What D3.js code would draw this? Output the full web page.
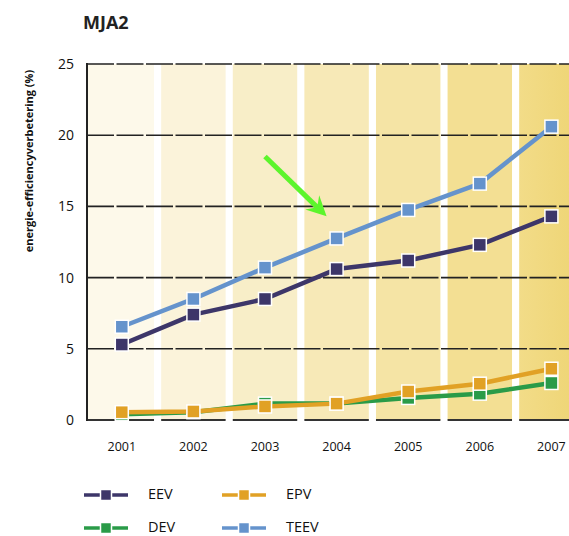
<!DOCTYPE html>
<html><head><meta charset="utf-8">
<script src="https://cdn.jsdelivr.net/npm/d3@7"></script>
<style>
body{margin:0;background:#fff;}
svg{display:block;font-family:"Open Sans","Noto Sans",sans-serif;}
</style></head>
<body>
<svg id="c" width="569" height="536"></svg>
<script>
const years = ["2001","2002","2003","2004","2005","2006","2007"];
const EEV  = [5.3, 7.4, 8.5, 10.6, 11.2, 12.3, 14.3];
const DEV  = [0.4, 0.55, 1.15, 1.15, 1.55, 1.85, 2.6];
const EPV  = [0.55, 0.6, 0.95, 1.15, 2.0, 2.55, 3.6];
const TEEV = [6.55, 8.5, 10.7, 12.75, 14.75, 16.6, 20.6];
const yTicks = [0, 5, 10, 15, 20, 25];
const bandColors = ["#fdf9ea","#fbf3da","#f8eec8","#f7e9b7","#f5e4a5","#f3df93","#f0d97d"];
const seriesNames = ["EEV","DEV","EPV","TEEV"];
const seriesColors = {EEV:"#3d3669", DEV:"#2a9b48", EPV:"#e1a125", TEEV:"#6593cc"};
const seriesValues = {EEV, DEV, EPV, TEEV};
const drawOrder = ["EEV","TEEV","DEV","EPV"];
const arrowFrom = [2.0, 18.5];   // [year index, value]
const arrowTo   = [2.86, 14.3];

const svg = d3.select("#c");
const y = d3.scaleLinear().domain([0,25]).range([420,64]);
const x = d3.scaleBand().domain(years).range([86, 587.2]).paddingInner(0.1).paddingOuter(0.05);
const cx = d => x(d) + x.bandwidth()/2;
const xi = d3.scaleLinear().domain([0,1]).range([cx(years[0]), cx(years[1])]);
const axisX = 87;

const defs = svg.append("defs");
const g7 = defs.append("linearGradient").attr("id","g7");
g7.append("stop").attr("offset","0%").attr("stop-color","#f2dc88");
g7.append("stop").attr("offset","100%").attr("stop-color","#eed473");

svg.append("g").selectAll("rect").data(years).join("rect")
  .attr("x",(d,i)=> i===0 ? axisX : x(d))
  .attr("width",(d,i)=> i===0 ? x(d)+x.bandwidth()-axisX : x.bandwidth())
  .attr("y", y(25)).attr("height", y(0)-y(25))
  .attr("fill",(d,i)=> i===6 ? "url(#g7)" : bandColors[i]);

svg.append("g").selectAll("line").data(yTicks.filter(t=>t>0)).join("line")
  .attr("x1",axisX).attr("x2",569).attr("y1",d=>y(d)).attr("y2",d=>y(d))
  .attr("stroke","#222").attr("stroke-width",1.6).attr("stroke-dasharray","27,2.5");

svg.append("g").selectAll("line").data(years).join("line")
  .attr("x1",(d,i)=> i===0 ? axisX : x(d)).attr("x2",d=>x(d)+x.bandwidth())
  .attr("y1",y(0)).attr("y2",y(0))
  .attr("stroke","#333").attr("stroke-width",2);

svg.append("line").attr("x1",axisX).attr("x2",axisX).attr("y1",y(25)-1).attr("y2",y(0)+1)
  .attr("stroke","#222").attr("stroke-width",2);

svg.append("g").selectAll("text").data(yTicks).join("text")
  .attr("x",74).attr("y",d=>y(d)+5).attr("text-anchor","end")
  .attr("font-size",14).attr("fill","#111").text(d=>d);

svg.append("g").selectAll("text").data(years).join("text")
  .attr("x",d=>cx(d)).attr("y",451).attr("text-anchor","middle")
  .attr("font-size",12.5).attr("fill","#111").text(d=>d);

svg.append("text").attr("transform","translate(33,161) rotate(-90)")
  .attr("text-anchor","middle").attr("font-size",11).attr("font-weight","bold")
  .attr("font-family","'Liberation Sans Narrow','Open Sans',sans-serif")
  .attr("fill","#111").text("energie-efficiencyverbetering (%)");

svg.append("text").attr("x",83).attr("y",29).attr("font-size",18).attr("font-weight","bold")
  .attr("fill","#222").text("MJA2");

const line = d3.line().x((d,i)=>cx(years[i])).y(d=>y(d));
drawOrder.forEach(name=>{
  const vals = seriesValues[name];
  const g = svg.append("g");
  g.append("path").datum(vals).attr("d",line).attr("fill","none")
    .attr("stroke",seriesColors[name]).attr("stroke-width",4.5).attr("stroke-linejoin","round");
  g.selectAll("rect").data(vals).join("rect")
    .attr("x",(d,i)=>cx(years[i])-6.5).attr("y",d=>y(d)-6.5)
    .attr("width",13).attr("height",13)
    .attr("fill",seriesColors[name]).attr("stroke","#fff").attr("stroke-width",1.5);
});

const ax1 = xi(arrowFrom[0]), ay1 = y(arrowFrom[1]);
const ax2 = xi(arrowTo[0]), ay2 = y(arrowTo[1]);
const ang = Math.atan2(ay2-ay1, ax2-ax1);
const headL = 20, headW = 10;
const bx = ax2 - headL*Math.cos(ang), by = ay2 - headL*Math.sin(ang);
svg.append("line").attr("x1",ax1).attr("y1",ay1)
  .attr("x2",ax2 - 10*Math.cos(ang)).attr("y2",ay2 - 10*Math.sin(ang))
  .attr("stroke","#5cf52c").attr("stroke-width",5);
const px = -Math.sin(ang), py = Math.cos(ang);
const nx = ax2 - 13*Math.cos(ang), ny = ay2 - 13*Math.sin(ang);
svg.append("path")
  .attr("d",`M${ax2},${ay2} L${bx+px*headW},${by+py*headW} L${nx},${ny} L${bx-px*headW},${by-py*headW} Z`)
  .attr("fill","#5cf52c");

const legend = [
  {name:"EEV", col:0,row:0},{name:"EPV",col:1,row:0},
  {name:"DEV", col:0,row:1},{name:"TEEV",col:1,row:1}
];
const lg = svg.append("g");
legend.forEach(l=>{
  const lx = 84 + l.col*138, ly = 495 + l.row*33;
  lg.append("line").attr("x1",lx).attr("x2",lx+44).attr("y1",ly).attr("y2",ly)
    .attr("stroke",seriesColors[l.name]).attr("stroke-width",3.5);
  lg.append("rect").attr("x",lx+22-5.5).attr("y",ly-5.5).attr("width",11).attr("height",11)
    .attr("fill",seriesColors[l.name]).attr("stroke","#fff").attr("stroke-width",1.5);
  lg.append("text").attr("x",lx+64).attr("y",ly+4).attr("font-size",14.5)
    .attr("fill","#111").text(l.name);
});
</script>
</body></html>
